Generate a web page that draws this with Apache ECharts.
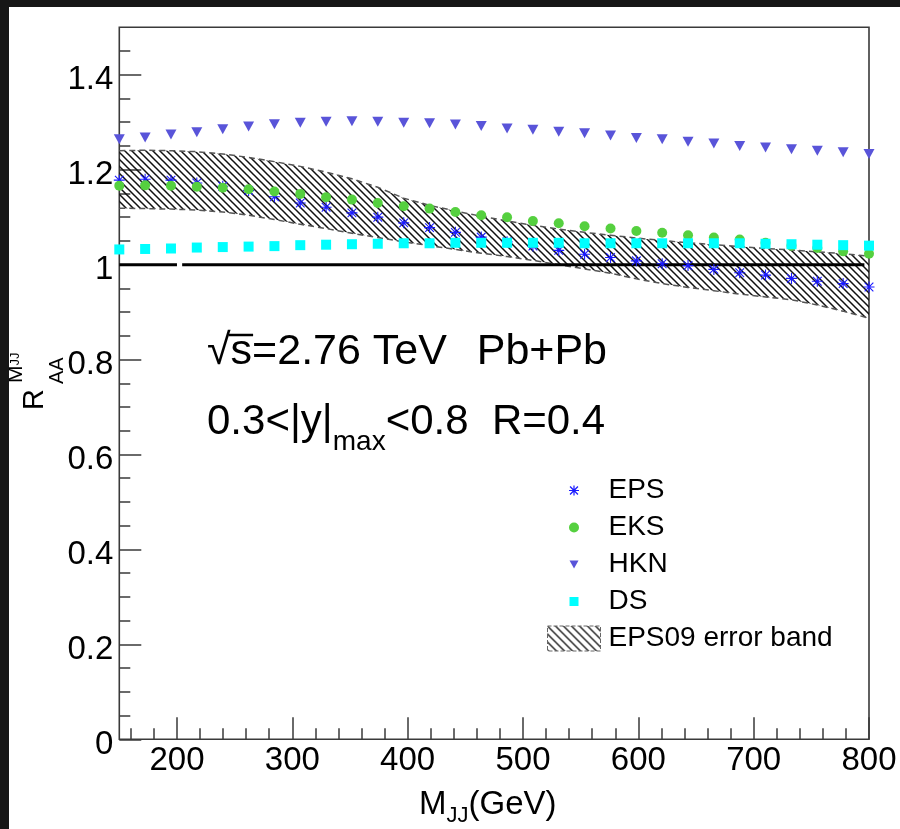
<!DOCTYPE html>
<html><head><meta charset="utf-8">
<script src="https://cdn.jsdelivr.net/npm/echarts@6/dist/echarts.min.js"></script>
<style>
html,body{margin:0;padding:0;background:#161616;width:900px;height:829px;overflow:hidden}
#c{position:absolute;left:9px;top:7px;width:891px;height:822px;background:#fff}
</style></head><body><div id="c"></div>
<script>
// ---- data ----
const massGeV = [150,172.4,194.8,217.2,239.7,262.1,284.5,306.9,329.3,351.7,374.1,396.6,419,441.4,463.8,486.2,508.6,531,553.4,575.9,598.3,620.7,643.1,665.5,687.9,710.3,732.8,755.2,777.6,800];
const rEPS = [1.178,1.180,1.178,1.172,1.165,1.156,1.143,1.130,1.121,1.109,1.100,1.088,1.078,1.068,1.058,1.048,1.039,1.030,1.022,1.015,1.008,1.002,0.998,0.990,0.983,0.978,0.971,0.965,0.960,0.953];
const rEKS = [1.166,1.167,1.166,1.164,1.162,1.159,1.154,1.149,1.142,1.137,1.130,1.123,1.118,1.111,1.104,1.100,1.092,1.087,1.081,1.076,1.071,1.067,1.062,1.057,1.053,1.046,1.040,1.035,1.028,1.023];
const rHKN = [1.264,1.268,1.274,1.279,1.285,1.291,1.296,1.299,1.301,1.302,1.301,1.299,1.298,1.295,1.292,1.287,1.284,1.280,1.277,1.272,1.267,1.264,1.259,1.255,1.250,1.247,1.243,1.240,1.237,1.233];
const rDS  = [1.032,1.033,1.034,1.036,1.037,1.038,1.039,1.041,1.042,1.043,1.044,1.045,1.045,1.046,1.046,1.046,1.046,1.046,1.045,1.045,1.045,1.045,1.045,1.045,1.045,1.044,1.043,1.042,1.041,1.040];
const bandHigh = [1.240,1.241,1.240,1.238,1.233,1.226,1.217,1.207,1.195,1.181,1.163,1.140,1.125,1.113,1.102,1.092,1.083,1.075,1.068,1.062,1.056,1.051,1.046,1.042,1.038,1.034,1.031,1.027,1.023,1.018];
const bandLow  = [1.119,1.118,1.117,1.115,1.111,1.104,1.095,1.085,1.076,1.066,1.057,1.048,1.040,1.032,1.024,1.017,1.009,1.000,0.991,0.982,0.970,0.960,0.952,0.945,0.938,0.932,0.926,0.915,0.902,0.887];
const refLineX = [150,200,202,204.5,796];
const refLineY = [1,1,null,1,1];
const xMajorTicks = [200,300,400,500,600,700,800];
const xMinorTicks = [160,180,220,240,260,280,320,340,360,380,420,440,460,480,520,540,560,580,620,640,660,680,720,740,760,780];
const yMajorTicks = [0,0.2,0.4,0.6,0.8,1,1.2,1.4];
const yMinorTicks = [0.05,0.1,0.15,0.25,0.3,0.35,0.45,0.5,0.55,0.65,0.7,0.75,0.85,0.9,0.95,1.05,1.1,1.15,1.25,1.3,1.35,1.45];
const seriesNames = ['EPS','EKS','HKN','DS','EPS09 error band'];

// ---- helpers ----
const OX = 9, OY = 7;
const FF = '"Liberation Sans", "DejaVu Sans", Arial, sans-serif';
const mctx = document.createElement('canvas').getContext('2d');
function tw(t, fs){ mctx.font = fs + 'px ' + FF; return mctx.measureText(t).width; }
function txt(text, x, base, fs, align){
  return {type:'text', z:50, style:{text:text, x:x - OX, y:base - 0.35*fs - OY, fontSize:fs, fontFamily:FF, fill:'#000', align:align || 'left', verticalAlign:'middle'}};
}
function pts(xs, ys){ return xs.map((x,i)=>[x, ys[i] == null ? '-' : ys[i]]); }
function hatch(s, lw, col){
  const c = document.createElement('canvas'); c.width = s; c.height = s;
  const g = c.getContext('2d'); g.strokeStyle = col; g.lineWidth = lw; g.beginPath();
  for (const k of [-s,0,s]) { g.moveTo(-1, -1 + k); g.lineTo(s + 1, s + 1 + k); }
  g.stroke(); return c;
}
const hatchFill = {image: hatch(7, 1.5, '#111'), repeat:'repeat'};
const hatchLegend = {image: hatch(8, 1.4, '#222'), repeat:'repeat'};

const asteriskPath = 'path://M9 0H11V20H9Z M0 9H20V11H0Z M1.4 2.8L2.8 1.4L18.6 17.2L17.2 18.6Z M17.2 1.4L18.6 2.8L2.8 18.6L1.4 17.2Z';
const pad = 'M0 0 M53 25 ';
const legAst = 'path://' + pad + 'M25.9 7.5H27.1V17.5H25.9Z M21.5 11.9H31.5V13.1H21.5Z M22.1 9L23 8.1L30.9 16L30 16.9Z M30 8.1L30.9 9L23 16.9L22.1 16Z';
const legCir = 'path://' + pad + 'M31.5 12.5A5 5 0 1 1 21.5 12.5A5 5 0 1 1 31.5 12.5Z';
const legTri = 'path://' + pad + 'M22 8.5L31 8.5L26.5 16.5Z';
const legSq  = 'path://' + pad + 'M22 8H31V17H22Z';

// ---- annotation text layout ----
const graphics = [];
(function(){
  const fs = 43, x0 = 207, b = 367;
  const wr = tw('\u221A', fs), ws = tw('s', fs);
  graphics.push(txt('\u221A', x0, b, fs));
  graphics.push(txt('s=2.76 TeV', x0 + wr, b, fs));
  graphics.push(txt('Pb+Pb', 607, b, fs, 'right'));
  graphics.push({type:'line', z:50, shape:{x1:x0 + wr - 2 - OX, y1:b - 32 - OY, x2:x0 + wr + ws + 1 - OX, y2:b - 32 - OY}, style:{stroke:'#000', lineWidth:2.5}});
})();
(function(){
  const fs = 42, fsub = 28, x0 = 207, b = 437;
  const a = '0.3<|y|', m = 'max', c = '<0.8  R=0.4';
  graphics.push(txt(a, x0, b, fs));
  const x1 = x0 + tw(a, fs);
  graphics.push(txt(m, x1, b + 15, fsub));
  graphics.push(txt(c, x1 + tw(m, fsub), b, fs));
})();
(function(){
  const x0 = 419, b = 816, fs = 33, fsub = 22;
  graphics.push(txt('M', x0, b, fs));
  const x1 = x0 + tw('M', fs);
  graphics.push(txt('JJ', x1, b + 8, fsub));
  graphics.push(txt('(GeV)', x1 + tw('JJ', fsub), b, fs));
})();
(function(){
  const ltxt = (t, x, base, fs) => ({type:'text', style:{text:t, x:x, y:base - 0.35*fs, fontSize:fs, fontFamily:FF, fill:'#000', align:'left', verticalAlign:'middle'}});
  graphics.push({type:'group', x:45 - OX, y:410 - OY, rotation:Math.PI/2, z:50, children:[
    ltxt('R', 0, 0, 29),
    ltxt('AA', 26, 19, 20),
    ltxt('M', 27, -21, 21),
    ltxt('JJ', 27 + tw('M', 21), -25, 13)
  ]});
})();

// ---- band drawn through the axes with a custom series ----
function renderBand(params, api){
  if (params.dataIndex !== 0) return;
  const up = massGeV.map((m,i)=>api.coord([m, bandHigh[i]]));
  const lo = massGeV.map((m,i)=>api.coord([m, bandLow[i]]));
  const poly = up.concat(lo.slice().reverse());
  const dash = {stroke:'#555', lineWidth:1.5, lineDash:[6,4], fill:null};
  return {type:'group', children:[
    {type:'polygon', shape:{points:poly}, style:{fill:hatchFill, stroke:null}},
    {type:'polyline', shape:{points:up}, style:dash},
    {type:'polyline', shape:{points:lo}, style:dash}
  ]};
}

// ---- chart ----
const chart = echarts.init(document.getElementById('c'), null, {renderer:'canvas'});
const tickStyle = {color:'#3a3a3a', width:1.5};
chart.setOption({
  animation:false,
  backgroundColor:'#fff',
  grid:{left:119.3 - OX, top:27.3 - OY, right:900 - 869, bottom:829 - 739.3, show:true, borderColor:'#3a3a3a', borderWidth:1.6, containLabel:false},
  xAxis:[
    {type:'value', min:150, max:800, position:'bottom', axisLine:{show:false}, splitLine:{show:false},
     axisTick:{inside:true, length:22, lineStyle:tickStyle, customValues:xMajorTicks},
     axisLabel:{customValues:xMajorTicks, fontSize:33, fontFamily:FF, color:'#000', margin:5}},
    {type:'value', min:150, max:800, position:'bottom', axisLine:{show:false}, splitLine:{show:false},
     axisTick:{inside:true, length:11, lineStyle:tickStyle, customValues:xMinorTicks},
     axisLabel:{show:false}}
  ],
  yAxis:[
    {type:'value', min:0, max:1.5, position:'left', axisLine:{show:false}, splitLine:{show:false},
     axisTick:{inside:true, length:22, lineStyle:tickStyle, customValues:yMajorTicks},
     axisLabel:{customValues:yMajorTicks, fontSize:33, fontFamily:FF, color:'#000', margin:6, verticalAlign:'top', lineHeight:11}},
    {type:'value', min:0, max:1.5, position:'left', axisLine:{show:false}, splitLine:{show:false},
     axisTick:{inside:true, length:11, lineStyle:tickStyle, customValues:yMinorTicks},
     axisLabel:{show:false}}
  ],
  legend:{
    orient:'vertical', left:547 - OX, top:476.5 - OY, padding:0, itemWidth:53, itemHeight:25, itemGap:9,
    textStyle:{fontSize:28, fontFamily:FF, color:'#000', lineHeight:25, padding:[0,0,0,3]},
    itemStyle:{borderWidth:0},
    selectedMode:false,
    data:[
      {name:seriesNames[0], icon:legAst},
      {name:seriesNames[1], icon:legCir},
      {name:seriesNames[2], icon:legTri},
      {name:seriesNames[3], icon:legSq},
      {name:seriesNames[4], icon:'rect', itemStyle:{color:hatchLegend, borderColor:'#666', borderWidth:1, borderType:'dashed'}}
    ]
  },
  graphic:graphics,
  series:[
    {name:seriesNames[4], type:'custom', renderItem:renderBand, data:pts(massGeV, bandHigh), itemStyle:{color:'#555'}, z:1, silent:true, clip:true},
    {name:'unity', type:'line', data:pts(refLineX, refLineY), symbol:'none', connectNulls:false,
     lineStyle:{color:'#000', width:3}, z:2, silent:true},
    {name:seriesNames[0], type:'scatter', data:pts(massGeV, rEPS), symbol:asteriskPath, symbolSize:11, itemStyle:{color:'#1a1aff', opacity:1}, z:3},
    {name:seriesNames[1], type:'scatter', data:pts(massGeV, rEKS), symbol:'circle', symbolSize:10, itemStyle:{color:'#55d03f', opacity:1}, z:3},
    {name:seriesNames[2], type:'scatter', data:pts(massGeV, rHKN), symbol:'triangle', symbolRotate:180, symbolSize:[11,10], itemStyle:{color:'#5954d9', opacity:1}, z:3},
    {name:seriesNames[3], type:'scatter', data:pts(massGeV, rDS), symbol:'rect', symbolSize:10, itemStyle:{color:'#00ffff', opacity:1}, z:3}
  ]
});
</script></body></html>
